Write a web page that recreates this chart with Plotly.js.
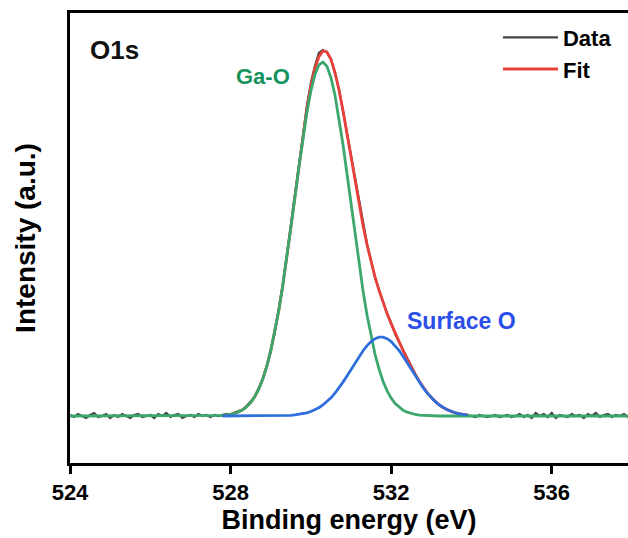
<!DOCTYPE html>
<html>
<head>
<meta charset="utf-8">
<script src="https://cdn.plot.ly/plotly-3.0.1.min.js"></script>
<style>html,body{margin:0;padding:0;background:#fff;}#chart{width:628px;height:538px;}</style>
</head>
<body>
<div id="chart"></div>
<script>
// Binding energy grid: start and step (eV)
const dataStart = 524.0;
const compStart = 527.8;
const step = 0.1;

// Raw data (a.u.), 524.0 -> 538.0 eV
const dataY = [
  0.01, -0.01, 0.02, 0.00, -0.02, 0.01, 0.03, -0.01, 0.00, 0.02,
  -0.02, 0.01, -0.01, 0.02, 0.00, -0.02, 0.01, 0.02, -0.01, 0.00,
  0.01, -0.02, 0.02, 0.00, 0.03, -0.01, 0.01, 0.02, -0.02, 0.00,
  0.01, -0.01, 0.02, 0.00, 0.01, -0.01,
  0.01, 0.00,
  0.012, 0.02, 0.01, 0.035, 0.05, 0.06, 0.10, 0.14, 0.19, 0.28, 0.37, 0.50,
  0.66, 0.83, 1.07, 1.31, 1.60, 1.89, 2.21, 2.52, 2.81, 3.10,
  3.33, 3.50, 3.63, 3.66, 3.64, 3.57, 3.43, 3.27, 3.05, 2.83,
  2.59, 2.36, 2.13, 1.92, 1.72, 1.55, 1.38, 1.26, 1.14, 1.02,
  0.93, 0.82, 0.74, 0.66, 0.57, 0.49, 0.42, 0.35, 0.29, 0.23,
  0.19, 0.14, 0.11, 0.085, 0.06, 0.05, 0.03, 0.025, 0.01,
  0.01, 0.00, -0.01, 0.01, 0.00, -0.01, 0.00, 0.01, -0.01, 0.00,
  0.01, -0.01, 0.00, 0.02, -0.01, 0.01, -0.02, 0.03, 0.00, 0.02,
  -0.01, 0.03, -0.02, 0.01, 0.00, -0.01, 0.02, 0.00, 0.01, -0.02,
  0.02, 0.00, 0.03, -0.01, 0.01, 0.02, -0.01, 0.01, 0.00, 0.02,
  -0.01, 0.01
];

// Ga-O component, 524.0 -> 538.0 eV
const gaoY = [
  0,0,0,0,0,0,0,0,0,0, 0,0,0,0,0,0,0,0,0,0, 0,0,0,0,0,0,0,0,0,0, 0,0,0,0,0,0,
  0.002, 0.004,
  0.006, 0.010, 0.017, 0.027, 0.041, 0.062, 0.093, 0.135, 0.192, 0.268, 0.367, 0.493,
  0.648, 0.835, 1.054, 1.302, 1.577, 1.872, 2.177, 2.482, 2.771, 3.031,
  3.249, 3.412, 3.511, 3.540, 3.497, 3.384, 3.209, 2.982, 2.715, 2.422,
  2.117, 1.812, 1.521, 1.250, 1.007, 0.795, 0.615, 0.466, 0.345, 0.251,
  0.179, 0.125, 0.086, 0.057, 0.038, 0.024, 0.015, 0.009, 0.006, 0.003,
  0.002,
  0,0,0,0,0,0,0,0,0,0, 0,0,0,0,0,0,0,0,0,0, 0,0,0,0,0,0,0,0,0,0,
  0,0,0,0,0,0,0,0,0,0, 0,0,0,0,0,0,0,0,0,0
];

// Surface O component, 527.8 -> 533.9 eV
const surfY = [
  0, 0, 0, 0, 0, 0, 0, 0, 0.0001, 0.0001, 0.0002, 0.0004,
  0.0007, 0.0011, 0.0018, 0.0029, 0.0044, 0.0068, 0.0103, 0.0153, 0.0223, 0.0318,
  0.0447, 0.0615, 0.083, 0.110, 0.143, 0.182, 0.228, 0.281, 0.339, 0.401,
  0.466, 0.532, 0.595, 0.653, 0.704, 0.745, 0.773, 0.788, 0.788, 0.773,
  0.745, 0.704, 0.653, 0.595, 0.532, 0.466, 0.401, 0.339, 0.281, 0.228,
  0.182, 0.143, 0.110, 0.083, 0.0615, 0.0447, 0.0318, 0.0223, 0.0153, 0.0103
];

// Fit envelope, 527.8 -> 533.9 eV
const fitY = [
  0.006, 0.010, 0.017, 0.027, 0.041, 0.062, 0.093, 0.135, 0.192, 0.268, 0.367, 0.493,
  0.649, 0.836, 1.056, 1.305, 1.581, 1.879, 2.187, 2.497, 2.793, 3.063,
  3.294, 3.474, 3.594, 3.650, 3.640, 3.566, 3.437, 3.263, 3.054, 2.823,
  2.583, 2.344, 2.116, 1.903, 1.711, 1.540, 1.388, 1.254, 1.133, 1.024,
  0.924, 0.829, 0.739, 0.652, 0.570, 0.490, 0.416, 0.348, 0.287, 0.231,
  0.184, 0.143, 0.110, 0.083, 0.062, 0.045, 0.032, 0.022, 0.015, 0.010
];

const xTicks = [524, 528, 532, 536];
const seriesNames = ['Data', 'Fit'];

const FONT = 'Liberation Sans, Arial, sans-serif';

const traces = [
  {type:'scatter', mode:'lines', name:seriesNames[0], x0:dataStart, dx:step, y:dataY,
   line:{color:'#454545', width:2.2}, legendgroup:'a'},
  {type:'scatter', mode:'lines', name:seriesNames[1], x0:compStart, dx:step, y:fitY,
   line:{color:'#e8403a', width:2.8}, legendgroup:'b'},
  {type:'scatter', mode:'lines', name:'Ga-O', x0:dataStart, dx:step, y:gaoY,
   line:{color:'#3ba76c', width:2.8}, showlegend:false},
  {type:'scatter', mode:'lines', name:'Surface O', x0:compStart, dx:step, y:surfY,
   line:{color:'#2e6fdc', width:2.8}, showlegend:false}
];

const layout = {
  width:628, height:538,
  margin:{l:70, r:0, t:13, b:75},
  paper_bgcolor:'#fff', plot_bgcolor:'#fff',
  font:{family:FONT, color:'#000'},
  showlegend:true,
  legend:{x:0.767, y:0.992, xanchor:'left', yanchor:'top', bgcolor:'rgba(0,0,0,0)',
          font:{family:FONT, size:22, color:'#000', weight:'bold'},
          tracegroupgap:0, itemwidth:55},
  xaxis:{range:[524, 537.9], tickvals:xTicks, ticktext:xTicks.map(String),
         ticks:'outside', ticklen:8, tickwidth:3, tickcolor:'#000',
         showline:true, linewidth:3, linecolor:'#000', mirror:true,
         showgrid:false, zeroline:false,
         tickfont:{family:FONT, size:22, weight:'bold', color:'#000'},
         title:{text:'Binding energy (eV)', standoff:6,
                font:{family:FONT, size:27, weight:'bold', color:'#000'}}},
  yaxis:{range:[-0.47, 4.03], showticklabels:false, ticks:'',
         showline:true, linewidth:3, linecolor:'#000', mirror:false,
         showgrid:false, zeroline:false,
         title:{text:'Intensity (a.u.)', standoff:24,
                font:{family:FONT, size:28, weight:'bold', color:'#000'}}},
  annotations:[
    {xref:'paper', yref:'paper', x:0.033, y:0.918, xanchor:'left', yanchor:'middle',
     text:'O1s', showarrow:false, font:{family:FONT, size:26, weight:'bold', color:'#111'}},
    {xref:'paper', yref:'paper', x:0.294, y:0.858, xanchor:'left', yanchor:'middle',
     text:'Ga-O', showarrow:false, font:{family:FONT, size:22, weight:'bold', color:'#14935c'}},
    {xref:'paper', yref:'paper', x:0.6, y:0.316, xanchor:'left', yanchor:'middle',
     text:'Surface O', showarrow:false, font:{family:FONT, size:23, weight:'bold', color:'#2b4de8'}}
  ]
};

Plotly.newPlot('chart', traces, layout, {displayModeBar:false, staticPlot:true});
</script>
</body>
</html>
